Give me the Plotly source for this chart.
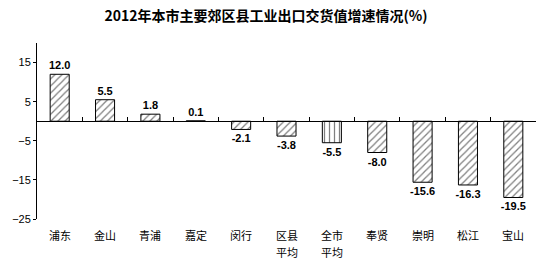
import plotly.graph_objects as go

categories = ["浦东", "金山", "青浦", "嘉定", "闵行", "区县<br>平均", "全市<br>平均", "奉贤", "崇明", "松江", "宝山"]
values = [12.0, 5.5, 1.8, 0.1, -2.1, -3.8, -5.5, -8.0, -15.6, -16.3, -19.5]
patterns = ["/", "/", "/", "/", "/", "/", "|", "/", "/", "/", "/"]
y_ticks = [15, 5, -5, -15, -25]
y_min, y_max = -25, 20

fig = go.Figure()
fig.add_trace(go.Bar(
    x=list(range(len(categories))), y=values,
    width=0.42,
    marker=dict(color="white", line=dict(color="black", width=1),
                pattern=dict(shape=patterns, fgcolor="black", bgcolor="white", size=5, solidity=0.25)),
    text=[f"{v:.1f}" for v in values], textposition="outside", constraintext="none",
    textfont=dict(family="Arial", size=11, color="black", weight="bold"),
    outsidetextfont=dict(family="Arial", size=11, color="black", weight="bold"),
    cliponaxis=False, showlegend=False,
))
# invisible trace to carry the zero-positioned axis
fig.add_trace(go.Scatter(x=list(range(len(categories))), y=values, xaxis="x2", mode="markers",
                         marker=dict(opacity=0), showlegend=False, hoverinfo="skip"))

for i, c in enumerate(categories):
    for j, line in enumerate(c.split("<br>")):
        fig.add_annotation(x=i, y=0, xref="x", yref="paper", text=line, showarrow=False,
                           yanchor="middle", yshift=-16 - 17 * j,
                           font=dict(family="Noto Sans CJK SC", size=11, color="black"))

zero_pos = (0 - y_min) / (y_max - y_min)
fig.update_layout(
    width=553, height=260, margin=dict(l=34, r=17, t=43, b=41),
    plot_bgcolor="white", paper_bgcolor="white",
    title=dict(text="<b>2012年本市主要郊区县工业出口交货值增速情况(%)</b>", x=0.481, xanchor="center",
               y=0.94, yanchor="middle", font=dict(family="Noto Sans CJK SC", size=14, color="black")),
    xaxis=dict(range=[-0.5, len(categories) - 0.5], showticklabels=False, showline=False,
               showgrid=False, zeroline=False, ticks=""),
    xaxis2=dict(range=[-0.5, len(categories) - 0.5], overlaying="x", anchor="free", position=zero_pos,
                showline=True, linecolor="black", linewidth=1, ticks="inside", ticklen=4,
                tickcolor="black", tickmode="linear", tick0=0.5, dtick=1,
                showticklabels=False, showgrid=False, zeroline=False),
    yaxis=dict(range=[y_min, y_max], tickvals=y_ticks, showline=True, linecolor="black", linewidth=1,
               ticks="outside", ticklen=3, tickcolor="black", showgrid=False, zeroline=False,
               tickfont=dict(family="Arial", size=11, color="black")),
)
fig.write_html("out.html")
